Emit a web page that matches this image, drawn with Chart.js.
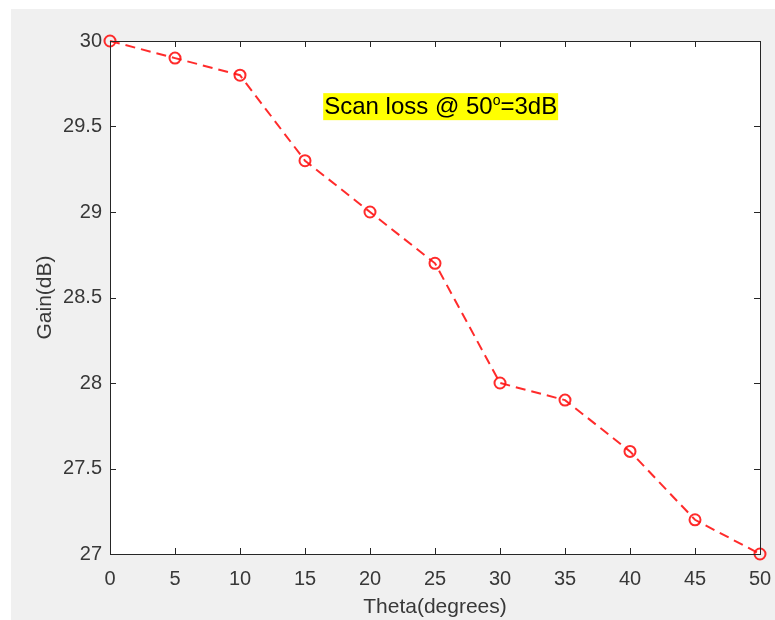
<!DOCTYPE html>
<html>
<head>
<meta charset="utf-8">
<script src="https://cdn.jsdelivr.net/npm/chart.js@4/dist/chart.umd.min.js"></script>
<style>
    html, body { margin: 0; padding: 0; background: #ffffff; }
    #fig {
        position: absolute;
        left: 11px;
        top: 9px;
        width: 764px;
        height: 611px;
        background: #f0f0f0;
    }
</style>
</head>
<body>
<div id="fig"><canvas id="gainChart" width="764" height="611"></canvas></div>
<script>
// scan angle vs gain
const thetaDeg = [0, 5, 10, 15, 20, 25, 30, 35, 40, 45, 50];
const gainDb = [30, 29.9, 29.8, 29.3, 29.0, 28.7, 28.0, 27.9, 27.6, 27.2, 27.0];

const xTicks = [0, 5, 10, 15, 20, 25, 30, 35, 40, 45, 50];
const yTicks = [27, 27.5, 28, 28.5, 29, 29.5, 30];

// annotation (top-left corner in data units)
const noteParts = ['Scan loss @ 50', 'o', '=3dB'];
const noteX = 16.4;
const noteY = 29.695;

const axisColor = '#262626';
const textColor = '#383838';
const fontFamily = 'Arial, "Liberation Sans", Helvetica, sans-serif';

// MATLAB-like box with inward ticks on all four sides
const boxPlugin = {
    id: 'matlabBox',
    beforeDraw(chart) {
        const { ctx, chartArea: a } = chart;
        ctx.save();
        ctx.fillStyle = '#ffffff';
        ctx.fillRect(a.left, a.top, a.right - a.left, a.bottom - a.top);
        ctx.restore();
    },
    afterDraw(chart) {
        const { ctx, chartArea: a, scales } = chart;
        const tl = 6;
        ctx.save();
        ctx.strokeStyle = axisColor;
        ctx.lineWidth = 1;
        ctx.beginPath();
        scales.x.ticks.forEach((t) => {
            const px = Math.round(scales.x.getPixelForValue(t.value)) + 0.5;
            ctx.moveTo(px, a.bottom);
            ctx.lineTo(px, a.bottom - tl);
            ctx.moveTo(px, a.top);
            ctx.lineTo(px, a.top + tl);
        });
        scales.y.ticks.forEach((t) => {
            const py = Math.round(scales.y.getPixelForValue(t.value)) + 0.5;
            ctx.moveTo(a.left, py);
            ctx.lineTo(a.left + tl, py);
            ctx.moveTo(a.right, py);
            ctx.lineTo(a.right - tl, py);
        });
        ctx.stroke();
        ctx.strokeRect(Math.round(a.left) + 0.5, Math.round(a.top) + 0.5,
            Math.round(a.right - a.left), Math.round(a.bottom - a.top));
        ctx.restore();
    },
};

const notePlugin = {
    id: 'scanNote',
    afterDatasetsDraw(chart) {
        const { ctx, scales } = chart;
        const x0 = scales.x.getPixelForValue(noteX);
        const y0 = scales.y.getPixelForValue(noteY);
        const big = '24px ' + fontFamily;
        const small = '14px ' + fontFamily;
        ctx.save();
        ctx.font = big;
        const w1 = ctx.measureText(noteParts[0]).width;
        const w3 = ctx.measureText(noteParts[2]).width;
        ctx.font = small;
        const w2 = ctx.measureText(noteParts[1]).width;
        const pad = 1;
        const h = 27;
        ctx.fillStyle = '#ffff00';
        ctx.fillRect(x0, y0, w1 + w2 + w3 + pad * 2, h);
        ctx.fillStyle = '#000000';
        ctx.textBaseline = 'alphabetic';
        const base = y0 + 20.5;
        ctx.font = big;
        ctx.fillText(noteParts[0], x0 + pad, base);
        ctx.font = small;
        ctx.fillText(noteParts[1], x0 + pad + w1, base - 9);
        ctx.font = big;
        ctx.fillText(noteParts[2], x0 + pad + w1 + w2, base);
        ctx.restore();
    },
};

new Chart(document.getElementById('gainChart'), {
    type: 'line',
    data: {
        datasets: [
            {
                label: 'Gain',
                data: thetaDeg.map((t, i) => ({ x: t, y: gainDb[i] })),
                borderColor: 'rgba(255, 20, 20, 0.9)',
                borderWidth: 2,
                borderDash: [10, 6],
                pointStyle: 'circle',
                pointRadius: 5.5,
                pointBorderWidth: 2,
                pointBorderColor: 'rgba(255, 20, 20, 0.9)',
                pointBackgroundColor: 'rgba(0, 0, 0, 0)',
                tension: 0,
                clip: false,
            },
        ],
    },
    options: {
        responsive: false,
        animation: false,
        layout: { padding: { left: 0, top: 32, right: 15, bottom: 0 } },
        plugins: {
            legend: { display: false },
            tooltip: { enabled: false },
        },
        scales: {
            x: {
                type: 'linear',
                min: 0,
                max: 50,
                afterBuildTicks: (s) => { s.ticks = xTicks.map((v) => ({ value: v })); },
                afterFit: (s) => {
                    s.height = 66;
                    s.paddingLeft = 0;
                    s.paddingRight = 0;
                },
                grid: { display: false, drawTicks: false },
                border: { display: false },
                ticks: {
                    color: textColor,
                    font: { family: fontFamily, size: 20 },
                    padding: 13,
                    maxRotation: 0,
                    callback: (v) => String(v),
                },
                title: {
                    display: true,
                    text: 'Theta(degrees)',
                    color: textColor,
                    font: { family: fontFamily, size: 21 },
                    padding: { top: 0, bottom: 0 },
                },
            },
            y: {
                type: 'linear',
                min: 27,
                max: 30,
                afterBuildTicks: (s) => { s.ticks = yTicks.map((v) => ({ value: v })); },
                afterFit: (s) => { s.width = 99; },
                grid: { display: false, drawTicks: false },
                border: { display: false },
                ticks: {
                    color: textColor,
                    font: { family: fontFamily, size: 20 },
                    padding: 8,
                    callback: (v) => String(v),
                },
                title: {
                    display: true,
                    text: 'Gain(dB)',
                    color: textColor,
                    font: { family: fontFamily, size: 21 },
                    padding: { top: 22, bottom: 0 },
                },
            },
        },
    },
    plugins: [boxPlugin, notePlugin],
});
</script>
</body>
</html>
